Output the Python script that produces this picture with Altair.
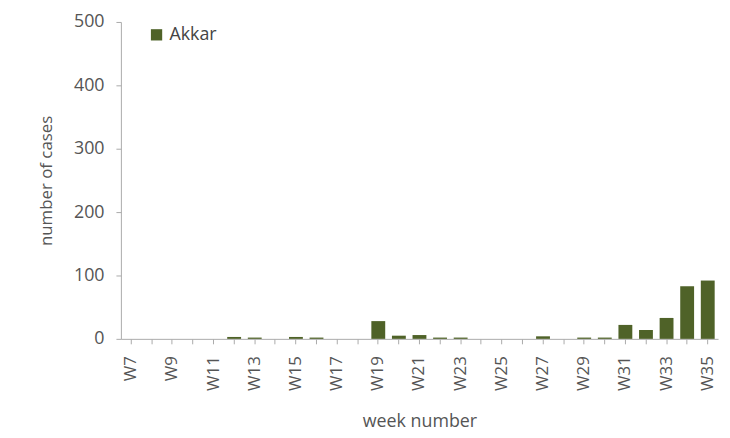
import altair as alt
import pandas as pd

weeks = [f"W{i}" for i in range(7, 36)]
cases = [0, 0, 0, 0, 0, 3, 2, 0, 3, 2, 0, 0, 28, 5, 6, 2, 2, 0, 0, 0, 4, 0, 2, 2, 22, 14, 33, 83, 92]
region = ["Akkar"] * len(weeks)

df = pd.DataFrame({"week": weeks, "cases": cases, "region": region})

font = "Open Sans"
shown = "['W7','W9','W11','W13','W15','W17','W19','W21','W23','W25','W27','W29','W31','W33','W35']"
chart = alt.Chart(df).mark_bar(size=14, color="#4f6228").encode(
    x=alt.X("week:N", sort=weeks, scale=alt.Scale(paddingInner=0.3, paddingOuter=0.15),
            axis=alt.Axis(title="week number", labelAngle=-90,
                          labelExpr=f"indexof({shown}, datum.value) >= 0 ? datum.value : ''",
                          labelFontSize=17, labelColor="#555", titleFontSize=18, titleColor="#555",
                          titleFontWeight="normal", domainColor="#aaa", tickColor="#aaa", tickSize=5,
                          labelPadding=12, titlePadding=22, labelFont=font, titleFont=font)),
    y=alt.Y("cases:Q", scale=alt.Scale(domain=[0, 500]),
            axis=alt.Axis(title="number of cases", values=[0, 100, 200, 300, 400, 500], grid=False,
                          labelFontSize=18, labelColor="#555", titleFontSize=17, titleColor="#555",
                          titleFontWeight="normal", domainColor="#aaa", tickColor="#aaa", tickSize=5,
                          labelPadding=12, titlePadding=18, labelFont=font, titleFont=font)),
    fill=alt.Fill("region:N", scale=alt.Scale(range=["#4f6228"]),
                  legend=alt.Legend(title=None, orient="none", legendX=27, legendY=4, symbolType="square",
                                    symbolSize=130, labelFontSize=18, labelColor="#444", labelFont=font)),
).properties(
    width=603, height=320,
    autosize=alt.AutoSizeParams(type="none"),
    padding={"left": 114, "top": 12, "right": 4, "bottom": 96},
).configure_view(stroke=None)

chart.save("out.html", embed_options={"renderer": "svg", "actions": False})
